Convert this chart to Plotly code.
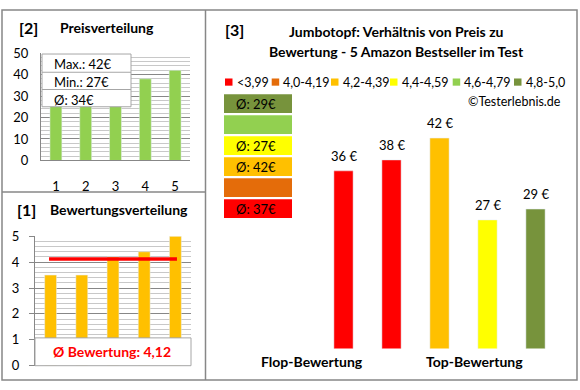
import plotly.graph_objects as go

W, H = 580, 390
FONT = "Lato"

# ---------------- data ----------------
products = [1, 2, 3, 4, 5]
ratings = [3.5, 3.5, 4.2, 4.4, 5.0]          # Flop -> Top
prices = [36, 38, 42, 27, 29]                # price (€) per product, Flop -> Top
bin_labels = ["<3,99", "4,0-4,19", "4,2-4,39", "4,4-4,59", "4,6-4,79", "4,8-5,0"]
bin_colors = ["#FF0000", "#E46C0A", "#FFC000", "#FFFF00", "#92D050", "#77933C"]
bin_lower = [4.0, 4.2, 4.4, 4.6, 4.8]
group_labels = ["Flop-Bewertung", "Top-Bewertung"]


def bin_of(r):
    return sum(1 for b in bin_lower if r >= b)


prices_sorted = sorted(prices)
avg_rating = sum(ratings) / len(ratings)
avg_price = sum(prices) / len(prices)
bar_colors3 = [bin_colors[bin_of(r)] for r in ratings]
group_avg = {}
for r, p in zip(ratings, prices):
    group_avg.setdefault(bin_of(r), []).append(p)


def de(v, nd=2):
    return f"{v:.{nd}f}".replace(".", ",")


def px(x):
    return x / W


def py(y):
    return 1 - y / H


fig = go.Figure()

# panel [2] price distribution
fig.add_trace(go.Bar(x=products, y=prices_sorted, marker_color="#92D050", width=0.4,
                     xaxis="x", yaxis="y", hoverinfo="skip"))
# panel [1] rating distribution
fig.add_trace(go.Bar(x=products, y=ratings, marker_color="#FFC000", width=0.38,
                     xaxis="x2", yaxis="y2", hoverinfo="skip"))
fig.add_trace(go.Scatter(x=[0.95, 5.05], y=[avg_rating, avg_rating], mode="lines",
                         line=dict(color="#FF0000", width=3.5),
                         xaxis="x2", yaxis="y2", hoverinfo="skip"))
# panel [3] price vs rating
fig.add_trace(go.Bar(x=list(range(len(prices))), y=prices, marker_color=bar_colors3,
                     width=0.4, xaxis="x3", yaxis="y3", hoverinfo="skip"))

grid_major = "#878787"
grid_minor = "#C8C8C8"
tickfont = dict(family=FONT, size=13, color="#000000")

fig.update_layout(
    width=W, height=H, autosize=False, margin=dict(l=0, r=0, t=0, b=0, pad=0),
    paper_bgcolor="white", plot_bgcolor="white", showlegend=False,
    font=dict(family=FONT, color="#000000"),
    xaxis=dict(domain=[px(41), px(190)], range=[0.5, 5.5], anchor="y",
               tickvals=products, ticks="", ticklabelstandoff=14, tickfont=tickfont,
               showgrid=False, showline=True, linecolor=grid_major, zeroline=False),
    yaxis=dict(domain=[py(159), py(47)], range=[0, 50], anchor="x",
               dtick=10, ticks="", ticklabelstandoff=9, tickfont=tickfont,
               showgrid=True, gridcolor=grid_major, showline=True, linecolor=grid_major,
               zeroline=False,
               minor=dict(dtick=2, showgrid=True, gridcolor=grid_minor)),
    xaxis2=dict(domain=[px(35), px(191)], range=[0.5, 5.5], anchor="y2",
                showticklabels=False, ticks="", showgrid=False, showline=False,
                zeroline=False),
    yaxis2=dict(domain=[py(373), py(238)], range=[0, 5], anchor="x2",
                dtick=1, ticks="outside", ticklen=5, tickcolor=grid_major,
                ticklabelstandoff=7, tickfont=tickfont,
                showgrid=True, gridcolor=grid_major, showline=True, linecolor=grid_major,
                zeroline=False,
                minor=dict(dtick=0.2, showgrid=True, gridcolor=grid_minor)),
    xaxis3=dict(domain=[px(319.5), px(559.5)], range=[-0.5, 4.5], anchor="y3",
                visible=False),
    yaxis3=dict(domain=[py(355), py(118.6)], range=[3.45, 45], anchor="x3",
                visible=False),
)

shapes = []
ann = []


def rect(x0, y0, x1, y1, **kw):
    shapes.append(dict(type="rect", xref="paper", yref="paper",
                       x0=px(x0), x1=px(x1), y0=py(y1), y1=py(y0), **kw))


def line(x0, y0, x1, y1, color="#878787", width=1.5):
    shapes.append(dict(type="line", xref="paper", yref="paper",
                       x0=px(x0), x1=px(x1), y0=py(y0), y1=py(y1),
                       line=dict(color=color, width=width), layer="above"))


def text(x, y, s, size=13, bold=False, color="#000000", xanchor="center", family=FONT):
    ann.append(dict(xref="paper", yref="paper", x=px(x), y=py(y), text=s,
                    showarrow=False, xanchor=xanchor, yanchor="middle",
                    font=dict(family=family, size=size, color=color,
                              weight="bold" if bold else "normal")))


# frames
rect(2, 2, 577, 388, line=dict(color="#878787", width=1.5), fillcolor="rgba(0,0,0,0)",
     layer="above")
line(205.5, 2, 205.5, 388)
line(2, 192, 205.5, 192)

# panel [2] titles + stats box
text(17, 20, "[2]", size=16, bold=True, xanchor="left")
text(58, 20, "Preisverteilung", size=14, bold=True, xanchor="left")
rect(42, 48, 131, 103, line=dict(color="#A6A6A6", width=1), fillcolor="white", layer="above")
line(42, 67, 131, 67, color="#A6A6A6", width=1)
line(42, 85, 131, 85, color="#A6A6A6", width=1)
text(52, 58, f"Max.: {max(prices)}€", size=13, xanchor="left")
text(52, 77, f"Min.: {min(prices)}€", size=13, xanchor="left")
text(52, 95.5, f"Ø: {avg_price:.0f}€", size=13, xanchor="left")

# panel [1] titles + avg box
text(15, 210, "[1]", size=16, bold=True, xanchor="left")
text(48, 210, "Bewertungsverteilung", size=14, bold=True, xanchor="left")
rect(35, 344, 191, 373, line=dict(color="#A6A6A6", width=1), fillcolor="white", layer="above")
text(112, 358.5, f"Ø Bewertung: {de(avg_rating)}", size=14, bold=True, color="#FF0000")

# panel [3] titles
text(223, 22, "[3]", size=16, bold=True, xanchor="left")
text(396, 25, "Jumbotopf: Verhältnis von Preis zu", size=14, bold=True)
text(396, 45, "Bewertung - 5 Amazon Bestseller im Test", size=14, bold=True)

# legend row
leg_x = [225, 271.7, 331, 390, 452.7, 514]
for lx, lab, col in zip(leg_x, bin_labels, bin_colors):
    rect(lx, 73.5, lx + 7.5, 81, line=dict(width=0), fillcolor=col, layer="above")
    text(lx + 9.5, 77.5, lab, size=12.5, xanchor="left")
text(563, 98, "©Testerlebnis.de", size=12.5, xanchor="right")

# colored group boxes (top: best bin)
for k, bi in enumerate(reversed(range(len(bin_colors)))):
    y0 = 90 + k * 21.9
    rect(224, y0, 292, y0 + 19.6, line=dict(width=0), fillcolor=bin_colors[bi], layer="above")
    if bi in group_avg:
        g = group_avg[bi]
        text(234, y0 + 10.3, f"Ø: {sum(g) / len(g):.0f}€", size=13, xanchor="left")

# bar value labels
for i, p in enumerate(prices):
    ann.append(dict(xref="x3", yref="y3", x=i, y=p, text=f"{p} €", showarrow=False,
                    yanchor="bottom", yshift=5,
                    font=dict(family=FONT, size=13, color="#000000")))

text(312, 369, group_labels[0], size=14, bold=True)
text(474, 369, group_labels[1], size=14, bold=True)

fig.update_layout(shapes=shapes, annotations=ann)
fig.write_html(
    "out.html",
    config={"responsive": False, "displayModeBar": False},
    post_script="document.body.style.margin='0';document.body.style.padding='0';"
                "document.documentElement.style.overflow='hidden';",
)
